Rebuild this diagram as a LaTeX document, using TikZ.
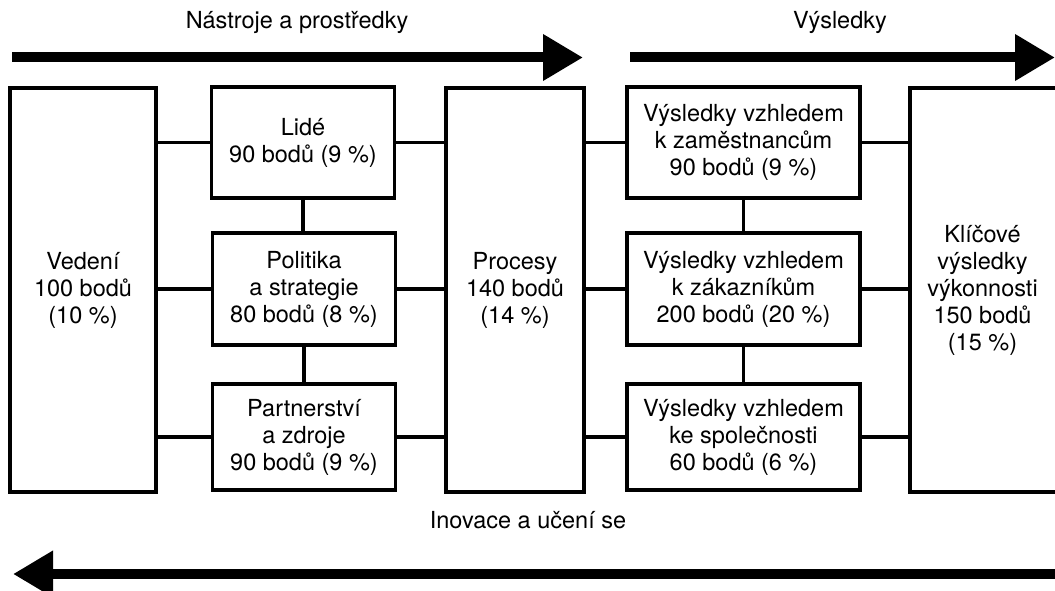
\documentclass[tikz,border=0pt]{standalone}
\usepackage{fontspec}
\setmainfont{TeX Gyre Heros}
\usetikzlibrary{arrows.meta}
\begin{document}
\begin{tikzpicture}[x=1pt,y=-1pt,
  txt/.style={font=\fontsize{23.5}{27}\selectfont, align=center},
  box/.style={txt, draw, line width=3.5pt, inner sep=0pt, outer sep=0pt},
  link/.style={line width=3.5pt},
  bigarrow/.style={line width=10pt, -{Triangle[length=40pt,width=44pt]}}]
\useasboundingbox (0,0) rectangle (1055,591);
\fill[white] (0,0) rectangle (1055,591);

% headings
\node[txt] (hTools) at (297,22) {Nástroje a prostředky};
\node[txt] (hRes) at (840,22) {Výsledky};
\node[txt] (hInov) at (528,520) {Inovace a učení se};

% direction arrows
\coordinate (a1s) at (12,57.5);
\coordinate (a1e) at (583,57.5);
\coordinate (a2s) at (630,57.5);
\coordinate (a2e) at (1055,57.5);
\coordinate (a3s) at (1060,574);
\coordinate (a3e) at (13,574);
\draw[bigarrow] (a1s) -- (a1e);
\draw[bigarrow] (a2s) -- (a2e);
\draw[bigarrow] (a3s) -- (a3e);

% enablers
\node[box, minimum width=146, minimum height=404] (vedeni) at (83,290)
  {Vedení\\100 bodů\\(10 \%)};
\node[box, minimum width=183, minimum height=111] (lide) at (303,142.5)
  {Lidé\\90 bodů (9 \%)};
\node[box, minimum width=183, minimum height=112] (polit) at (304,289)
  {Politika\\a strategie\\80 bodů (8 \%)};
\node[box, minimum width=183, minimum height=106] (partner) at (304,437)
  {Partnerství\\a zdroje\\90 bodů (9 \%)};
\node[box, minimum width=138, minimum height=404] (proc) at (515,290)
  {Procesy\\140 bodů\\(14 \%)};

% results
\node[box, minimum width=233, minimum height=111] (rzam) at (743.5,142.5)
  {Výsledky vzhledem\\k zaměstnancům\\90 bodů (9 \%)};
\node[box, minimum width=233, minimum height=112] (rzak) at (743.5,289)
  {Výsledky vzhledem\\k zákazníkům\\200 bodů (20 \%)};
\node[box, minimum width=233, minimum height=106] (rspol) at (743.5,437)
  {Výsledky vzhledem\\ke společnosti\\60 bodů (6 \%)};
\node[box, draw=none, minimum width=145, minimum height=404] (klic) at (982.5,290)
  {Klíčové\\výsledky\\výkonnosti\\150 bodů\\(15 \%)};
\draw[line width=3.5pt] ([xshift=10pt]klic.north east) -- (klic.north west)
  -- (klic.south west) -- ([xshift=10pt]klic.south east);

% connectors
\foreach \n in {lide,polit,partner}{
  \draw[link] (vedeni.east |- \n.west) -- (\n.west);
  \draw[link] (\n.east) -- (proc.west |- \n.east);
}
\foreach \n in {rzam,rzak,rspol}{
  \draw[link] (proc.east |- \n.west) -- (\n.west);
  \draw[link] (\n.east) -- (klic.west |- \n.east);
}
\draw[link] (lide.south) -- (lide.south |- polit.north);
\draw[link] (polit.south) -- (partner.north);
\draw[link] (rzam.south) -- (rzak.north);
\draw[link] (rzak.south) -- (rspol.north);
\end{tikzpicture}
\end{document}
